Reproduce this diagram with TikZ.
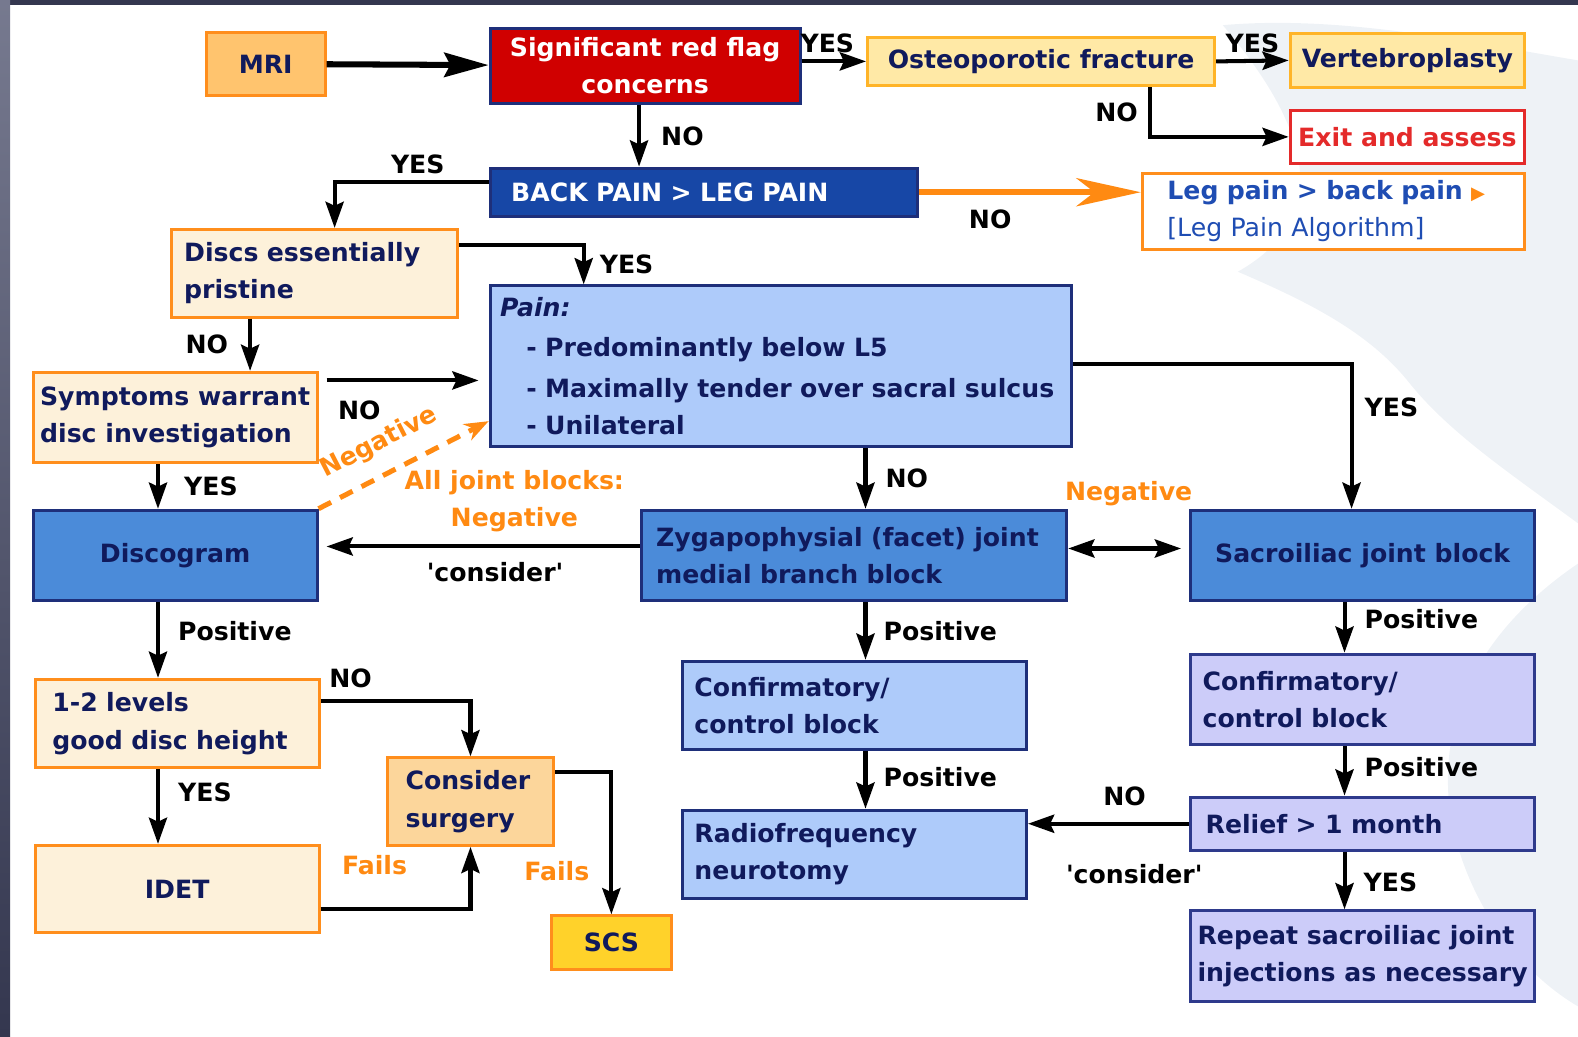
\documentclass[tikz,border=0pt]{standalone}
\usepackage{fontspec}
\setmainfont{DejaVu Sans}
\usepackage{tikz}
\usetikzlibrary{arrows.meta}
\usetikzlibrary{positioning}

\definecolor{navytext}{HTML}{101A5C}
\definecolor{boxnavy}{HTML}{1E2F7A}
\definecolor{flagred}{HTML}{D00000}
\definecolor{deepblue}{HTML}{1747A6}
\definecolor{midfill}{HTML}{4B8BD9}
\definecolor{palefill}{HTML}{AECBFA}
\definecolor{lilacfill}{HTML}{CCCCF9}
\definecolor{lilacedge}{HTML}{2E3A8C}
\definecolor{creamfill}{HTML}{FDF1DA}
\definecolor{boxorange}{HTML}{FF8E1C}
\definecolor{mrifill}{HTML}{FFC46E}
\definecolor{goldfill}{HTML}{FFE9A6}
\definecolor{goldedge}{HTML}{FFB428}
\definecolor{surgeryfill}{HTML}{FCD69B}
\definecolor{scsfill}{HTML}{FFD22A}
\definecolor{exitred}{HTML}{E42A2A}
\definecolor{legblue}{HTML}{1F4DB3}
\definecolor{hintorange}{HTML}{FF8A12}
\definecolor{framegray}{HTML}{545873}
\definecolor{framedark}{HTML}{34374F}
\definecolor{ghost}{HTML}{EEF2F6}

\newcommand{\chartfont}{\fontsize{12.5}{18.5}\selectfont\bfseries}

\tikzstyle{every node}+=[inner sep=0pt]
\tikzstyle{block} = [rectangle, draw=boxnavy, line width=1.5pt, text=navytext, font=\chartfont, align=center]
\tikzstyle{cream} = [block, draw=boxorange, fill=creamfill]
\tikzstyle{gold} = [block, draw=goldedge, fill=goldfill]
\tikzstyle{pale} = [block, draw=boxnavy, fill=palefill]
\tikzstyle{mid} = [block, draw=boxnavy, fill=midfill]
\tikzstyle{lilac} = [block, draw=lilacedge, fill=lilacfill]
\tikzstyle{line} = [draw, line width=2pt, -{Stealth[length=13pt, width=9pt, inset=2pt]}]
\tikzstyle{value} = [font=\chartfont, text=black]
\tikzstyle{hint} = [font=\chartfont, text=hintorange, align=center]

\begin{document}
\begin{tikzpicture}[x=0.5pt, y=-0.5pt]
            \useasboundingbox (0,0) rectangle (1568,1030);
            % Frame and faint backdrop
            \fill [ghost] (1215,25) .. controls (1330,15) and (1450,40) .. (1568,60) -- (1568,520) .. controls (1500,470) and (1440,430) .. (1400,380) .. controls (1360,330) and (1300,300) .. (1230,270) .. controls (1300,230) and (1330,160) .. (1215,25) -- cycle;
            \fill [ghost] (1568,560) .. controls (1480,620) and (1430,700) .. (1440,800) .. controls (1450,880) and (1500,960) .. (1568,1000) -- cycle;
            \fill [framedark] (0,0) rectangle (1568,5);
            \shade [top color=framegray!80, bottom color=framedark] (0,0) rectangle (10,1030);
            % Place nodes
            \node [cream, fill=mrifill, minimum width=59pt, minimum height=31.5pt] (mri) at (264,63.5) {MRI};
            \node [block, fill=flagred, text=white, minimum width=154pt, minimum height=37.5pt] (flag) at (641,65.5) {Significant red flag\\concerns};
            \node [gold, minimum width=172.5pt, minimum height=24pt] (osteo) at (1034.5,61) {Osteoporotic fracture};
            \node [gold, minimum width=116.5pt, minimum height=27pt] (vert) at (1398.5,60) {Vertebroplasty};
            \node [block, draw=exitred, fill=white, text=exitred, minimum width=116.5pt, minimum height=26pt] (exit) at (1398.5,136) {Exit and assess};
            \node [block, fill=deepblue, text=white, text width=191.5pt, inner xsep=10.5pt, minimum height=24pt, align=left] (backpain) at (699.5,191) {BACK PAIN > LEG PAIN};
            \node [block, draw=boxorange, fill=white, text=legblue, text width=165pt, inner xsep=12.5pt, minimum height=38pt, align=left] (legpain) at (1325,210) {Leg pain > back pain {\color{hintorange}\small ▶}\\{\mdseries [Leg Pain Algorithm]}};
            \node [cream, text width=129.5pt, inner xsep=6.5pt, minimum height=43.5pt, align=left] (discs) at (312.5,271.5) {Discs essentially\\pristine};
            \node [pale, text width=279pt, inner xsep=5pt, minimum height=80pt, align=left] (pain) at (776,364) {\textit{Pain:}\\[1pt]\hspace*{13pt}- Predominantly below L5\\[2pt]\hspace*{13pt}- Maximally tender over sacral sulcus\\\hspace*{13pt}- Unilateral};
            \node [cream, minimum width=141pt, minimum height=45pt, align=left] (symptoms) at (174,415) {Symptoms warrant\\disc investigation};
            \node [mid, minimum width=141pt, minimum height=45pt] (discogram) at (174,552) {Discogram};
            \node [mid, text width=196.5pt, inner xsep=7.5pt, minimum height=45pt, align=left] (zyg) at (848.5,552) {Zygapophysial (facet) joint\\medial branch block};
            \node [mid, minimum width=171pt, minimum height=45pt] (sacro) at (1354,552) {Sacroiliac joint block};
            \node [cream, text width=124pt, inner xsep=8.5pt, minimum height=44pt, align=left] (levels) at (176,719) {1-2 levels\\good disc height};
            \node [cream, fill=surgeryfill, text width=64.5pt, inner xsep=9pt, minimum height=43.5pt, align=left] (surgery) at (467.5,796.5) {Consider\\surgery};
            \node [cream, minimum width=141pt, minimum height=43.5pt] (idet) at (176,883.5) {IDET};
            \node [cream, fill=scsfill, minimum width=59.5pt, minimum height=26.5pt] (scs) at (607.5,936.5) {SCS};
            \node [pale, text width=159pt, inner xsep=6pt, minimum height=44pt, align=left] (confl) at (849,701) {Confirmatory/\\control block};
            \node [pale, text width=159pt, inner xsep=6pt, minimum height=44pt, align=left] (radio) at (849,849) {Radiofrequency\\neurotomy};
            \node [lilac, text width=159pt, inner xsep=6pt, minimum height=45pt, align=left] (confr) at (1354,695) {Confirmatory/\\control block};
            \node [lilac, text width=156pt, inner xsep=7.5pt, minimum height=26.5pt, align=left] (relief) at (1354,818.5) {Relief > 1 month};
            \node [lilac, minimum width=171pt, minimum height=45pt, align=left] (repeat) at (1354,950) {Repeat sacroiliac joint\\injections as necessary};
            % Draw edges
            \path [line, line width=3pt, -{Stealth[length=22pt, width=12pt, inset=3pt]}] (mri) -- (flag);
            \path [line] (flag.east |- osteo.west) -- (osteo.west) node [value, above=3pt, pos=.4] {YES};
            \path [line] (osteo.east) -- (vert.west) node [value, above=3pt, midway] {YES};
            \path [line] ([xshift=54pt]osteo.south) |- (exit.west) node [value, left=5pt, pos=.25] {NO};
            \path [line] ([xshift=-3pt]flag.south) -- ([xshift=-3pt]flag.south |- backpain.north) node [value, right=10pt, midway] {NO};
            \path [line] ([yshift=5pt]backpain.west) -| ([xshift=10pt]discs.north) node [value, above=3pt, pos=.23] {YES};
            \path [line, draw=hintorange, line width=3pt, -{Stealth[length=32pt, width=14pt, inset=9pt]}] (backpain.east) -- (backpain.east -| legpain.west) node [value, below=7pt, pos=.32] {NO};
            \path [line] ([yshift=14.25pt]discs.east) -| ([xshift=-98pt]pain.north) node [value, right=7pt, pos=.75] {YES};
            \path [line] ([xshift=-32pt]discs.south) -- ([xshift=-32pt]discs.south |- symptoms.north) node [value, left=10pt, midway] {NO};
            \path [line, shorten <=4pt, shorten >=5pt] ([yshift=18.5pt]symptoms.east) -- ([yshift=18.5pt]symptoms.east -| pain.west) node [value, below=9pt, pos=.24] {NO};
            \path [line] ([xshift=-8.5pt]symptoms.south) -- ([xshift=-8.5pt]symptoms.south |- discogram.north) node [value, right=12pt, midway] {YES};
            \path [line, draw=hintorange, line width=2.5pt, dash pattern=on 7pt off 5pt, -{Stealth[length=12pt, width=9pt]}] (discogram.north east) -- ([yshift=13.5pt]pain.south west) node [hint, sloped, above=8pt, pos=.44] {Negative};
            \path [line, shorten >=4pt] ([yshift=4.5pt]zyg.west) -- ([yshift=4.5pt]zyg.west -| discogram.east) node [hint, above=6pt, pos=.39] {All joint blocks:\\Negative} node [value, below=7pt, pos=.45] {\textquotesingle consider\textquotesingle};
            \path [line] ([xshift=42pt]pain.south) -- ([xshift=42pt]pain.south |- zyg.north) node [value, right=9pt, midway] {NO};
            \path [line] ([yshift=1pt]pain.east) -| ([xshift=-5.5pt]sacro.north) node [value, right=5.5pt, pos=.65] {YES};
            \path [line, {Stealth[length=13pt, width=9pt, inset=2pt]}-{Stealth[length=13pt, width=9pt, inset=2pt]}, shorten >=4pt] ([yshift=3.5pt]zyg.east) -- ([yshift=3.5pt]zyg.east -| sacro.west) node [hint, above=20pt, midway] {Negative};
            \path [line] ([xshift=-8.5pt]discogram.south) -- ([xshift=-8.5pt]discogram.south |- levels.north) node [value, right=9pt, pos=.38] {Positive};
            \path [line] ([yshift=11pt]levels.east) -| (surgery.north) node [value, above=6pt, pos=.1] {NO};
            \path [line] ([xshift=-9.5pt]levels.south) -- ([xshift=-9.5pt]levels.south |- idet.north) node [value, right=9pt, pos=.31] {YES};
            \path [line] ([yshift=-9.75pt]idet.east) -| (surgery.south) node [hint, above=16pt, pos=.18] {Fails};
            \path [line] ([yshift=14.75pt]surgery.east) -| (scs.north) node [hint, left=10pt, pos=.85] {Fails};
            \path [line] ([xshift=5.75pt]zyg.south) -- ([xshift=5.75pt]zyg.south |- confl.north) node [value, right=8pt, midway] {Positive};
            \path [line] ([xshift=5.5pt]confl.south) -- ([xshift=5.5pt]confl.south |- radio.north) node [value, right=8pt, pos=.45] {Positive};
            \path [line] ([xshift=-9pt]sacro.south) -- ([xshift=-9pt]sacro.south |- confr.north) node [value, right=9pt, pos=.33] {Positive};
            \path [line] ([xshift=-9pt]confr.south) -- ([xshift=-9pt]confr.south |- relief.north) node [value, right=9pt, pos=.42] {Positive};
            \path [line] (relief.west) -- (relief.west -| radio.east) node [value, above=8pt, pos=.4] {NO} node [value, below=19pt, pos=.34] {\textquotesingle consider\textquotesingle};
            \path [line] ([xshift=-9pt]relief.south) -- ([xshift=-9pt]relief.south |- repeat.north) node [value, right=8.5pt, pos=.53] {YES};
\end{tikzpicture}
\end{document}
